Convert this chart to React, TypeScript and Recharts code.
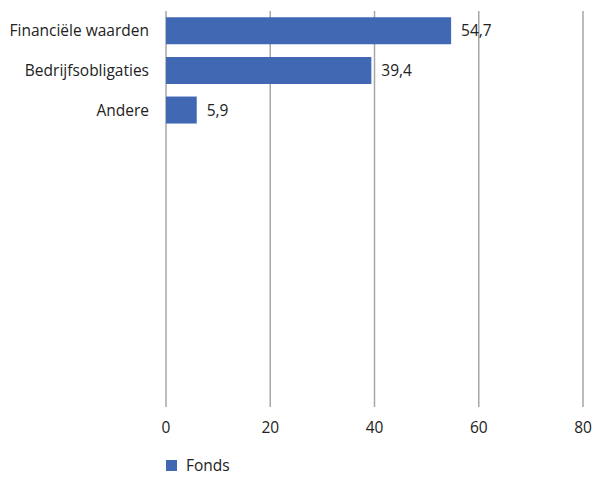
import { BarChart, Bar, XAxis, YAxis, CartesianGrid, LabelList } from 'recharts'

// categorieën (lege plaatsen houden de rest van de as vrij, zoals in het origineel)
const categories = [
  'Financiële waarden',
  'Bedrijfsobligaties',
  'Andere',
  '', '', '', '', '', '', '',
]
const fondsValues: Array<number | null> = [54.7, 39.4, 5.9, null, null, null, null, null, null, null]
const xTicks = [0, 20, 40, 60, 80]
const seriesName = 'Fonds'

const BLUE = '#4168B3'
const GRID = '#A6A6A6'
const FONT = '"Open Sans", "Noto Sans", sans-serif'
const FS = 15.5

const data = categories.map((c, i) => ({ cat: c, fonds: fondsValues[i] }))

const fmt = (v: any) => (v == null ? '' : String(v).replace('.', ','))

export default function App() {
  return (
    <div style={{ position: 'absolute', left: 0, top: 0, width: 595, height: 477, background: '#fff', fontFamily: FONT }}>
      <BarChart
        width={595}
        height={477}
        data={data}
        layout="vertical"
        margin={{ top: 11, right: 12, left: 0, bottom: 40 }}
        barCategoryGap="16%"
      >
        <CartesianGrid horizontal={false} stroke={GRID} strokeWidth={1.5} />
        <XAxis
          type="number"
          domain={[0, 80]}
          ticks={xTicks}
          height={30}
          axisLine={false}
          tickLine={false}
          tickMargin={9}
          tick={{ fill: '#222', fontSize: FS, fontFamily: FONT }}
        />
        <YAxis
          type="category"
          dataKey="cat"
          width={166}
          axisLine={false}
          tickLine={false}
          tickMargin={11}
          interval={0}
          tick={{ fill: '#222', fontSize: FS, fontFamily: FONT }}
        />
        <Bar dataKey="fonds" name={seriesName} fill={BLUE} isAnimationActive={false}>
          <LabelList
            dataKey="fonds"
            position="right"
            offset={10}
            formatter={fmt}
            style={{ fill: '#222', fontSize: FS, fontFamily: FONT }}
          />
        </Bar>
      </BarChart>
      {/* legenda */}
      <div style={{ position: 'absolute', left: 166, top: 454, display: 'flex', alignItems: 'center', fontSize: FS, color: '#222' }}>
        <span style={{ display: 'inline-block', width: 11, height: 11, background: BLUE, marginRight: 9 }} />
        <span>{seriesName}</span>
      </div>
    </div>
  )
}
